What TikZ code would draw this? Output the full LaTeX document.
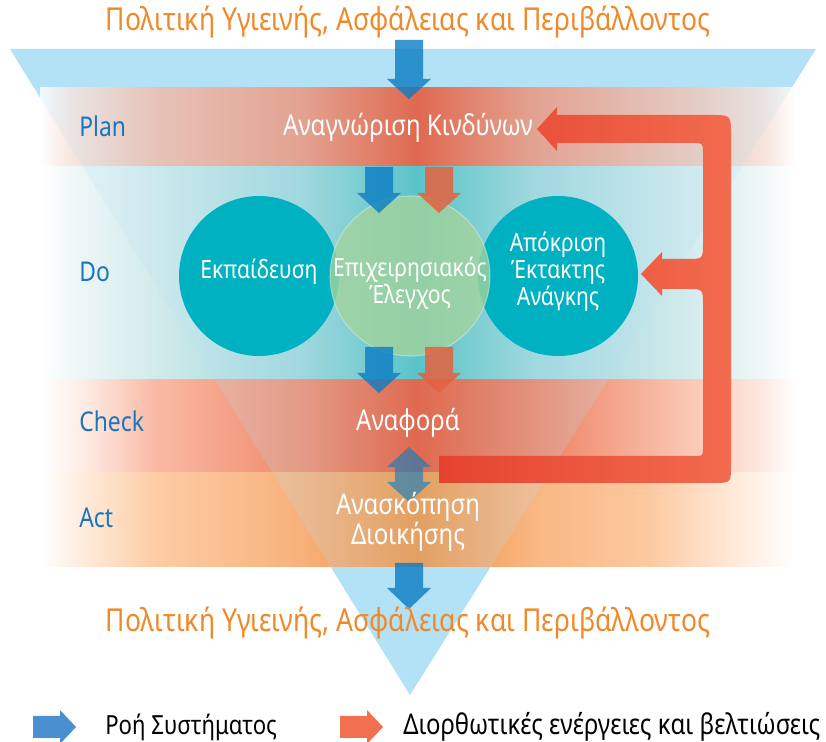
\documentclass[tikz,border=0pt]{standalone}
\usepackage{fontspec}
\setmainfont[FakeStretch=0.84]{Noto Sans}
\usetikzlibrary{calc}

\definecolor{tricol}{HTML}{B3E1F6}
\definecolor{policyorange}{HTML}{F0892A}
\definecolor{phaseblue}{HTML}{1B75BB}
\definecolor{tealc}{HTML}{00B2C1}
\definecolor{greenc}{HTML}{A3D39C}
\definecolor{flowblue}{HTML}{0B7CC3}
\definecolor{fixorange}{HTML}{E5613E}
\definecolor{fixdark}{HTML}{E5432F}
\definecolor{fixlight}{HTML}{F26B4F}
\definecolor{legblue}{HTML}{4A8FCF}
\definecolor{legorange}{HTML}{F07050}
% band stops
\definecolor{planA}{HTML}{F8E6E0}
\definecolor{planB}{HTML}{F4BCA9}
\definecolor{planC}{HTML}{EF9277}
\definecolor{planD}{HTML}{EB4C27}
\definecolor{planE}{HTML}{EFC8BA}
\definecolor{planF}{HTML}{F7E4DD}
\definecolor{doA}{HTML}{EEF6F7}
\definecolor{doB}{HTML}{D3EBEC}
\definecolor{doC}{HTML}{9AD6D8}
\definecolor{doD}{HTML}{45BDBE}
\definecolor{doE}{HTML}{D0EAEC}
\definecolor{checkA}{HTML}{FDEBE4}
\definecolor{checkB}{HTML}{FABAA6}
\definecolor{checkC}{HTML}{EF896A}
\definecolor{checkD}{HTML}{EB4C27}
\definecolor{checkE}{HTML}{EF8A6C}
\definecolor{checkF}{HTML}{FBCBB9}
\definecolor{checkG}{HTML}{FDE6DD}
\definecolor{actA}{HTML}{FEEADA}
\definecolor{actB}{HTML}{FDCDA5}
\definecolor{actC}{HTML}{F7B07A}
\definecolor{actD}{HTML}{F0903D}
\definecolor{actG}{HTML}{F9B682}
\definecolor{actE}{HTML}{FCC89E}
\definecolor{actF}{HTML}{FFEADA}

% stops run over 25bp..75bp, the part that covers the band
\pgfdeclarehorizontalshading{planband}{100bp}{color(0bp)=(white); color(25bp)=(white); color(27bp)=(planA); color(32.5bp)=(planB); color(42.5bp)=(planC); color(50bp)=(planD); color(57.5bp)=(planC); color(68.5bp)=(planE); color(73bp)=(planF); color(75bp)=(white); color(100bp)=(white)}
\pgfdeclarehorizontalshading{doband}{100bp}{color(0bp)=(white); color(25bp)=(white); color(27.5bp)=(doA); color(32.5bp)=(doB); color(42.5bp)=(doC); color(50bp)=(doD); color(57.5bp)=(doC); color(67.5bp)=(doE); color(72.5bp)=(doA); color(75bp)=(white); color(100bp)=(white)}
\pgfdeclarehorizontalshading{checkband}{100bp}{color(0bp)=(white); color(25bp)=(white); color(28bp)=(checkA); color(32.5bp)=(checkB); color(42.5bp)=(checkC); color(50bp)=(checkD); color(59bp)=(checkE); color(68.5bp)=(checkF); color(72.5bp)=(checkG); color(75bp)=(white); color(100bp)=(white)}
\pgfdeclarehorizontalshading{actband}{100bp}{color(0bp)=(white); color(25bp)=(white); color(28bp)=(actA); color(32.5bp)=(actB); color(42.5bp)=(actC); color(50bp)=(actD); color(57.5bp)=(actG); color(65bp)=(actE); color(71bp)=(actF); color(75bp)=(white); color(100bp)=(white)}

% block arrow pointing down: (x centre : y top : y head : y tip)
\def\blockdown[#1](#2:#3:#4:#5){\fill[#1] ({#2-14},#3) -- ({#2+14},#3) -- ({#2+14},#4) -- ({#2+22},#4) -- (#2,#5) -- ({#2-22},#4) -- ({#2-14},#4) -- cycle;}

\begin{document}
\begin{tikzpicture}[x=0.02cm, y=-0.02cm,
	policy/.style={text=policyorange, font=\fontsize{18}{21}\selectfont, inner sep=0pt},
	phase/.style={text=phaseblue, font=\fontsize{15.5}{18}\selectfont, anchor=west, inner sep=0pt},
	whitelabel/.style={text=white, align=center, font=\fontsize{14.3}{15.5}\selectfont, inner sep=0pt},
	biglabel/.style={whitelabel, font=\fontsize{16.3}{15.5}\selectfont},
	legendtext/.style={text=black, font=\fontsize{16.2}{19}\selectfont, anchor=west, inner sep=0pt},
	flowarrow/.style={fill=flowblue, fill opacity=0.8},
	fixarrow/.style={fill=fixorange, fill opacity=0.85}]
	%%%%% START %%%%%
	
	\useasboundingbox (0, 0) rectangle (826, 742);
	
	% funnel and bands
	\fill[tricol] (10, 49) -- (816, 49) -- (410, 695) -- cycle;
	\shade[shading=planband] (40, 88) rectangle (795, 167);
	\shade[shading=doband] (40, 167) rectangle (795, 380);
	\shade[shading=checkband] (40, 380) rectangle (795, 473);
	\shade[shading=actband] (40, 473) rectangle (795, 567);
	\fill[tricol, fill opacity=0.2] (10, 49) -- (816, 49) -- (410, 695) -- cycle;
	
	% policy in and out
	\blockdown[flowarrow](409:40:79:99)
	\blockdown[flowarrow](409:563:588:609)
	
	% the three activities
	\fill[tealc] (259, 276) circle [radius=80];
	\fill[tealc] (558, 276) circle [radius=80];
	\fill[greenc, fill opacity=0.8, draw=white, draw opacity=0.35, line width=0.6pt] (410, 276) circle [radius=80];
	
	\blockdown[flowarrow](379:167:193:213)
	\blockdown[fixarrow](439:167:193:213)
	\blockdown[flowarrow](379:347:373:393)
	\blockdown[fixarrow](439:347:373:393)
	
	% report <-> review
	\fill[flowblue, fill opacity=0.6] (409, 447) -- (431, 467) -- (423, 467) -- (423, 482) -- (431, 482) -- (409, 502) -- (387, 482) -- (395, 482) -- (395, 467) -- (387, 467) -- cycle;
	
	% corrective loop
	\shade[left color=fixdark, right color=fixlight] (439, 456) -- (439, 483) -- (713, 483) .. controls (731, 483) .. (731, 465) -- (731, 135) .. controls (731, 115) .. (711, 115) -- (557, 115) -- (557, 107) -- (537, 129) -- (557, 151) -- (557, 143) -- (693, 143) .. controls (703, 143) .. (703, 153) -- (703, 243) .. controls (703, 259) .. (687, 259) -- (662, 259) -- (662, 252) -- (641, 274) -- (662, 296) -- (662, 289) -- (687, 289) .. controls (703, 289) .. (703, 305) -- (703, 448) .. controls (703, 456) .. (695, 456) -- cycle;
	
	% texts
	\node[policy] (policyin) at (408, 22) {Πολιτική Υγιεινής, Ασφάλειας και Περιβάλλοντος};
	\node[policy] (policyout) at (408, 623) {Πολιτική Υγιεινής, Ασφάλειας και Περιβάλλοντος};
	
	\node[phase] (plan) at (79, 126) {Plan};
	\node[phase] (do) at (79, 272) {Do};
	\node[phase] (check) at (79, 421) {Check};
	\node[phase] (act) at (79, 518) {Act};
	
	\node[biglabel] (hazards) at (408, 128) {Αναγνώριση Κινδύνων};
	\node[whitelabel] (training) at (259, 272) {Εκπαίδευση};
	\node[whitelabel] (opcontrol) at (410, 283) {Επιχειρησιακός\\Έλεγχος};
	\node[whitelabel] (emergency) at (558, 272) {Απόκριση\\Έκτακτης\\Ανάγκης};
	\node[biglabel] (report) at (408, 423) {Αναφορά};
	\node[biglabel, font=\fontsize{16.3}{17}\selectfont] (review) at (408, 522) {Ανασκόπηση\\Διοικήσης};
	
	% legend
	\fill[legblue] (33, 716) -- (60, 716) -- (60, 710) -- (76, 727) -- (60, 744) -- (60, 738) -- (33, 738) -- cycle;
	\node[legendtext, font=\fontsize{15}{19}\selectfont] (flowkey) at (105, 727) {Ροή Συστήματος};
	\fill[legorange] (340, 716) -- (367, 716) -- (367, 710) -- (383, 727) -- (367, 744) -- (367, 738) -- (340, 738) -- cycle;
	\node[legendtext] (fixkey) at (403, 727) {Διορθωτικές ενέργειες και βελτιώσεις};
	
	%%%%% END %%%%%
\end{tikzpicture}
\end{document}
